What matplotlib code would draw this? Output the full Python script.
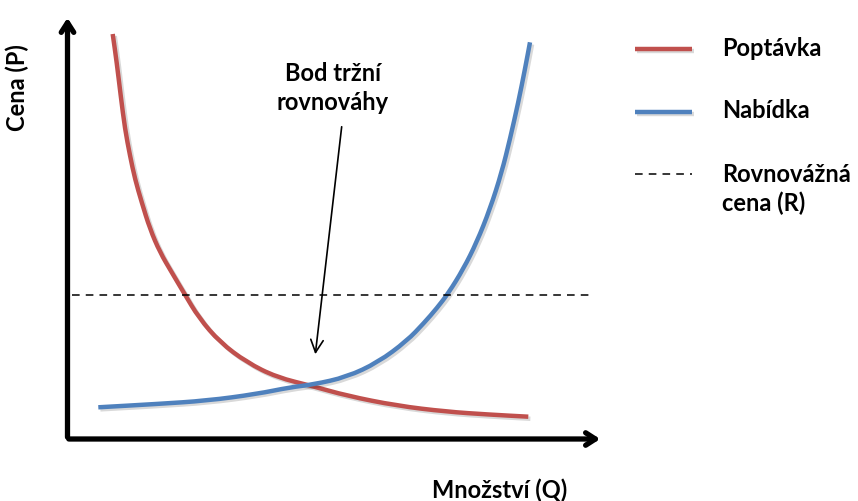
import matplotlib.pyplot as plt
import matplotlib.patheffects as pe
from matplotlib.path import Path
from matplotlib.patches import PathPatch

plt.rcParams['font.family'] = ['Lato', 'DejaVu Sans']

# curves (pixel-like units, y grows downwards)
demand_q = [112.7, 116.7, 120.7, 125, 130, 135, 141.7, 150, 160, 171.7, 184, 199, 220,
            246.7, 276.7, 313.3, 346.7, 396.7, 446.7, 488, 528.3]
demand_p = [35, 63.3, 96.7, 130, 156.7, 180, 203.3, 230, 253.3, 273.3, 294, 319, 343.3,
            363.3, 378.3, 387.3, 396.7, 406.7, 412.7, 415.5, 417.7]
supply_q = [98.3, 156.7, 206.7, 256.7, 290, 313.3, 346.7, 378, 406.7, 424, 437, 448.5,
            463.3, 476.7, 490, 501.7, 510, 518.3, 525, 530]
supply_p = [408.3, 405, 401.7, 395, 388.3, 385.5, 378, 363.3, 342, 324, 309, 294,
            270, 243.3, 210, 173.3, 140, 103.3, 70, 43.3]
price_r = 296
legend_labels = ['Poptávka', 'Nabídka', 'Rovnovážná\ncena (R)']

red = '#C0504D'
blue = '#4F81BD'
shadow = [pe.SimpleLineShadow(offset=(1.5, -1.5), alpha=0.15), pe.Normal()]
fs = 17


def smooth_path(xs, ys):
    # quadratic bezier through midpoints, the read points act as control points
    pts = list(zip(xs, ys))
    verts = [pts[0], ((pts[0][0] + pts[1][0]) / 2, (pts[0][1] + pts[1][1]) / 2)]
    codes = [Path.MOVETO, Path.LINETO]
    for i in range(1, len(pts) - 1):
        mid = ((pts[i][0] + pts[i + 1][0]) / 2, (pts[i][1] + pts[i + 1][1]) / 2)
        verts += [pts[i], mid]
        codes += [Path.CURVE3, Path.CURVE3]
    verts.append(pts[-1])
    codes.append(Path.LINETO)
    return Path(verts, codes)


fig = plt.figure(figsize=(8.58, 5.02), dpi=100)
ax = fig.add_axes([0, 0, 1, 1])
ax.set_xlim(0, 858)
ax.set_ylim(502, 0)
ax.axis('off')

# axes with arrows
ax.annotate('', xy=(67.5, 16), xytext=(67.5, 441),
            arrowprops=dict(arrowstyle='->,head_length=0.7,head_width=0.45', lw=3.8, color='black'))
ax.annotate('', xy=(603, 440), xytext=(66, 440),
            arrowprops=dict(arrowstyle='->,head_length=0.7,head_width=0.45', lw=3.8, color='black'))

ax.plot([72, 590], [price_r, price_r], color='black', lw=1.1, dashes=(5, 4))
for xs, ys, c in [(demand_q, demand_p, red), (supply_q, supply_p, blue)]:
    ax.add_patch(PathPatch(smooth_path(xs, ys), fill=False, edgecolor=c, lw=3.2,
                           capstyle='butt', joinstyle='round', path_effects=shadow))

# annotation
ax.text(333, 88, 'Bod tržní\nrovnováhy', ha='center', va='center', fontsize=fs,
        fontweight='bold', linespacing=1.3)
ax.annotate('', xy=(315, 358), xytext=(342, 125),
            arrowprops=dict(arrowstyle='->,head_length=0.9,head_width=0.45', lw=1.2, color='black'))

# axis labels
ax.text(17, 88, 'Cena (P)', rotation=90, ha='center', va='center', fontsize=fs, fontweight='bold')
ax.text(500, 490, 'Množství (Q)', ha='center', va='center', fontsize=fs, fontweight='bold')

# legend
ax.plot([635, 692], [50, 50], color=red, lw=3.2, solid_capstyle='butt', path_effects=shadow)
ax.plot([635, 692], [113, 113], color=blue, lw=3.2, solid_capstyle='butt', path_effects=shadow)
ax.plot([635, 692], [175, 175], color='black', lw=1.1, dashes=(5, 4))
ax.text(722, 48, legend_labels[0], ha='left', va='center', fontsize=fs, fontweight='bold')
ax.text(722, 111, legend_labels[1], ha='left', va='center', fontsize=fs, fontweight='bold')
ax.text(722, 189, legend_labels[2], ha='left', va='center', fontsize=fs, fontweight='bold',
        linespacing=1.3)

fig.savefig('out.png', dpi=100)
